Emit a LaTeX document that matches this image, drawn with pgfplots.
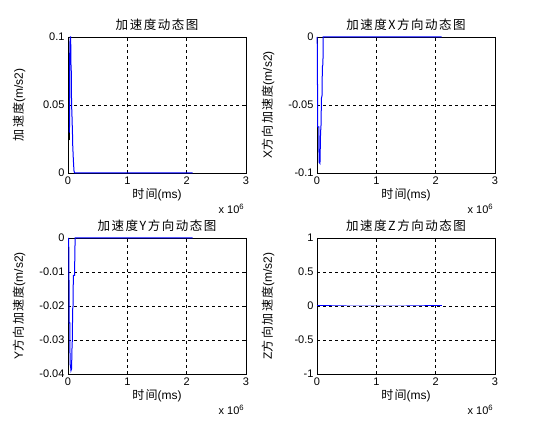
\documentclass[border=0pt]{standalone}
\usepackage{fontspec}
\setmainfont{Liberation Sans}
\newfontfamily\cjk[LetterSpace=12]{Noto Sans CJK SC}
\usepackage{pgfplots}
\pgfplotsset{compat=1.18}

\definecolor{mblue}{RGB}{0,0,255}

\pgfplotsset{
  mat/.style={
    scale only axis, width=178pt, height=136pt, anchor=south west,
    xmin=0, xmax=3, xtick={0,1,2,3}, xticklabels={0,1,2,3},
    scaled ticks=false, clip=false,
    grid=major,
    major grid style={black, dash pattern=on 3pt off 3pt, line width=0.6pt},
    axis line style={black, line width=0.8pt},
    tick align=inside, major tick length=2.5pt,
    tick style={black, line width=0.6pt},
    tick label style={font=\fontsize{11}{13}\selectfont},
    /pgf/number format/assume math mode=true,
    title style={font=\fontsize{12.5}{14}\selectfont, yshift=-3pt},
    label style={font=\fontsize{12}{14}\selectfont},
    xlabel={{\cjk 时间}(ms)},
    xlabel style={yshift=3pt},
    ylabel style={at={(axis description cs:-0.275,0.5)}, anchor=center},
    every axis plot/.append style={line width=1pt},
  },
  sci/.style={
    after end axis/.append code={
      \node[anchor=base east, font=\fontsize{11}{13}\selectfont]
        at (rel axis cs:1.01,-0.295) {x 10\textsuperscript{6}};
    }
  }
}

\begin{document}
\begin{tikzpicture}
\fill[white] (0pt,0pt) rectangle (540pt,430pt);

% top left: total acceleration
\begin{axis}[mat, sci, at={(68pt,257pt)},
  ymin=0, ymax=0.1, ytick={0,0.05,0.1}, yticklabels={0,0.05,0.1},
  title={\cjk 加速度动态图}, ylabel={{\cjk 加速度}(m/s2)}]
\addplot[black] coordinates {(0.017,0.024) (0.017,0.067)};
\addplot[mblue] coordinates {
  (0.020,0.030) (0.025,0.030) (0.030,0.095) (0.040,0.100) (0.045,0.100)
  (0.050,0.080) (0.055,0.075) (0.060,0.050) (0.065,0.045) (0.075,0.030)
  (0.080,0.020) (0.090,0.010) (0.100,0.002) (0.110,0) (2.100,0)};
\end{axis}

% top right: X direction
\begin{axis}[mat, sci, at={(317pt,257pt)},
  ymin=-0.1, ymax=0, ytick={-0.1,-0.05,0}, yticklabels={-0.1,-0.05,0},
  title={\cjk 加速度X方向动态图}, ylabel={X{\cjk 方向加速度}(m/s2)}]
\addplot[black] coordinates {(0.005,-0.007) (0.005,-0.039)};
\addplot[mblue] coordinates {
  (0,0) (0.005,-0.006) (0.005,-0.035) (0.012,-0.035) (0.012,-0.066)
  (0.030,-0.066) (0.035,-0.092) (0.050,-0.093) (0.060,-0.070)
  (0.067,-0.066) (0.075,-0.045) (0.085,-0.043) (0.090,-0.022)
  (0.100,-0.020) (0.105,0) (2.100,0)};
\end{axis}

% bottom left: Y direction
\begin{axis}[mat, sci, at={(68pt,56pt)},
  ymin=-0.04, ymax=0, ytick={-0.04,-0.03,-0.02,-0.01,0},
  yticklabels={-0.04,-0.03,-0.02,-0.01,0},
  title={\cjk 加速度Y方向动态图}, ylabel={Y{\cjk 方向加速度}(m/s2)}]
\addplot[black] coordinates {(0.012,-0.012) (0.012,-0.024)};
\addplot[mblue] coordinates {
  (0.010,0) (0.015,-0.005) (0.020,-0.025) (0.030,-0.025) (0.035,-0.037)
  (0.045,-0.038) (0.050,-0.039) (0.060,-0.0385) (0.068,-0.032)
  (0.073,-0.030) (0.078,-0.021) (0.085,-0.020) (0.090,-0.011)
  (0.110,-0.011) (0.120,0) (2.100,0)};
\end{axis}

% bottom right: Z direction
\begin{axis}[mat, sci, at={(317pt,56pt)},
  ymin=-1, ymax=1, ytick={-1,-0.5,0,0.5,1}, yticklabels={-1,-0.5,0,0.5,1},
  title={\cjk 加速度Z方向动态图}, ylabel={Z{\cjk 方向加速度}(m/s2)}]
\addplot[mblue] coordinates {(0,0) (0.5,0) (1,0) (1.5,0) (2.100,0)};
\end{axis}
\end{tikzpicture}
\end{document}
